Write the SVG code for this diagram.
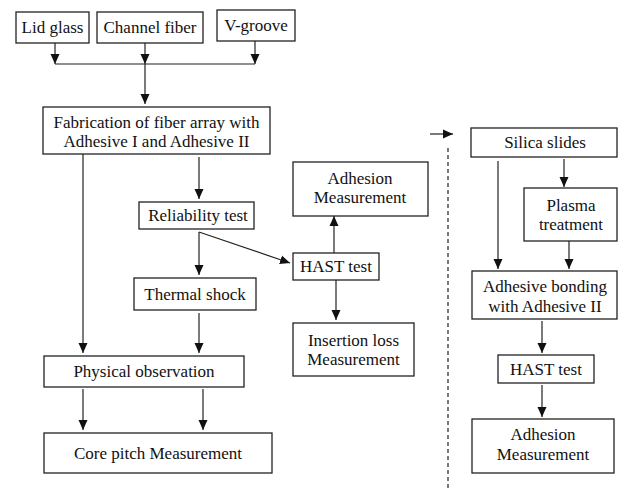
<svg xmlns="http://www.w3.org/2000/svg" width="619" height="489" viewBox="0 0 619 489">
<style>
rect{fill:#fff;stroke:#222;stroke-width:1.3}
text{font-family:'Liberation Serif','Tinos','DejaVu Serif',serif;font-size:17px;fill:#111;text-anchor:middle}
.c line{stroke:#222;stroke-width:1.2;fill:none}
.a{marker-end:url(#ah)}
.d{stroke-dasharray:4 3}
</style>
<defs>
<marker id="ah" markerUnits="userSpaceOnUse" markerWidth="10" markerHeight="10" refX="10" refY="4.5" orient="auto" viewBox="0 0 10 9">
<path d="M0,0 L10,4.5 L0,9 z" fill="#111"/>
</marker>
</defs>
<rect x="0" y="0" width="619" height="489" style="fill:#fff;stroke:none"/>
<g class="c" id="connectors">
<line class="a" x1="55" y1="43" x2="55" y2="64"/>
<line class="a" x1="145" y1="43" x2="145" y2="64"/>
<line class="a" x1="255" y1="41" x2="255" y2="64"/>
<line x1="55" y1="64" x2="255" y2="64"/>
<line class="a" x1="145" y1="64" x2="145" y2="104"/>
<line class="a" x1="199" y1="157" x2="199" y2="199"/>
<line class="a" x1="83" y1="154" x2="83" y2="353"/>
<line class="a" x1="199" y1="232" x2="199" y2="275"/>
<line class="a" x1="199" y1="232" x2="290" y2="263"/>
<line class="a" x1="199" y1="313" x2="199" y2="353"/>
<line class="a" x1="83" y1="389" x2="83" y2="430"/>
<line class="a" x1="203" y1="389" x2="203" y2="430"/>
<line class="a" x1="334" y1="253" x2="334" y2="216"/>
<line class="a" x1="336" y1="280" x2="336" y2="320"/>
<line class="a" x1="430" y1="134" x2="453" y2="134"/>
<line class="d" x1="448" y1="148" x2="448" y2="489"/>
<line class="a" x1="498" y1="161" x2="498" y2="269"/>
<line class="a" x1="564" y1="159" x2="564" y2="187"/>
<line class="a" x1="569" y1="241" x2="569" y2="269"/>
<line class="a" x1="542" y1="321" x2="542" y2="353"/>
<line class="a" x1="542" y1="385" x2="542" y2="417"/>
</g>
<g id="lid"><rect x="16" y="12" width="73" height="31"/><text x="52.5" y="33">Lid glass</text></g>
<g id="channel"><rect x="97" y="12" width="106" height="31"/><text x="150" y="33">Channel fiber</text></g>
<g id="vgroove"><rect x="217" y="10" width="78" height="31"/><text x="256" y="31">V-groove</text></g>
<g id="fab"><rect x="43" y="107" width="227" height="47"/><text x="156.5" y="128">Fabrication of fiber array with</text><text x="156.5" y="147">Adhesive I and Adhesive II</text></g>
<g id="reliability"><rect x="139" y="202" width="115" height="27"/><text x="198" y="221">Reliability test</text></g>
<g id="thermal"><rect x="134" y="278" width="122" height="32"/><text x="195" y="300">Thermal shock</text></g>
<g id="physical"><rect x="44" y="356" width="200" height="31"/><text x="144" y="377">Physical observation</text></g>
<g id="core"><rect x="44" y="433" width="228" height="40"/><text x="158" y="459">Core pitch Measurement</text></g>
<g id="adhesion1"><rect x="293" y="162" width="135" height="54"/><text x="360" y="184">Adhesion</text><text x="360" y="203">Measurement</text></g>
<g id="hast1"><rect x="293" y="253" width="86" height="27"/><text x="336" y="272">HAST test</text></g>
<g id="insertion"><rect x="293" y="323" width="121" height="53"/><text x="353.5" y="346">Insertion loss</text><text x="353.5" y="365">Measurement</text></g>
<g id="silica"><rect x="471" y="128" width="146" height="29"/><text x="545" y="148">Silica slides</text></g>
<g id="plasma"><rect x="524" y="188" width="93" height="53"/><text x="571" y="211">Plasma</text><text x="571" y="230">treatment</text></g>
<g id="bonding"><rect x="472" y="271" width="145" height="48"/><text x="545" y="292">Adhesive bonding</text><text x="545" y="312">with Adhesive II</text></g>
<g id="hast2"><rect x="498" y="355" width="96" height="28"/><text x="546" y="375">HAST test</text></g>
<g id="adhesion2"><rect x="472" y="419" width="142" height="54"/><text x="543" y="440">Adhesion</text><text x="543" y="460">Measurement</text></g>
</svg>
